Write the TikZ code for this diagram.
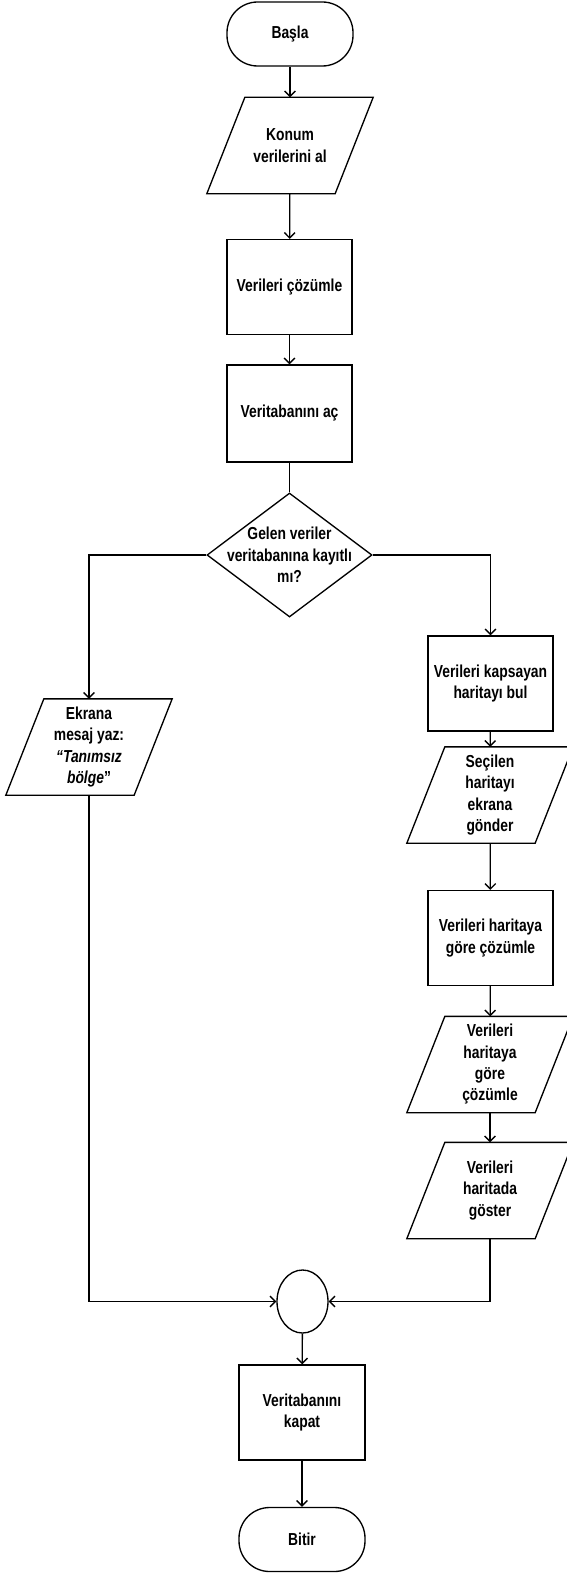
\documentclass[tikz,border=0pt]{standalone}
\usepackage{fontspec}
\setmainfont{Liberation Sans}[FakeStretch=0.8]
\usetikzlibrary{shapes.geometric,arrows.meta,calc}
\begin{document}
\begin{tikzpicture}[x=0.75pt,y=-0.75pt, line width=1pt,
 txt/.style={align=center, font=\fontsize{13}{16}\selectfont\bfseries, inner sep=0pt},
 term/.style={txt, draw, rectangle, rounded corners=23pt, minimum width=94.5pt, minimum height=48pt},
 proc/.style={txt, draw, rectangle, minimum width=93.75pt, minimum height=71.25pt},
 io/.style={txt, rectangle, minimum width=95.25pt, minimum height=71.25pt},
 arr/.style={-{Straight Barb[length=4pt,width=8pt]}}]
\useasboundingbox (0,0) rectangle (567,1573);
\node[term] (start) at (290,34) {Başla};
\node[io] (konum) at (290,145.5) {Konum\\verilerini al};
\node[proc] (coz) at (289.5,287) {Verileri çözümle};
\node[proc, minimum height=72.75pt] (vtac) at (289.5,413.5) {Veritabanını aç};
\node[draw, diamond, minimum width=123.75pt, minimum height=93pt, inner sep=0pt] (karar) at (289.5,555) {};
\node[txt] (kararT) at (karar.center) {Gelen veriler\\veritabanına kayıtlı\\mı?};
\node[io] (ekrana) at (89,747) {Ekrana\\mesaj yaz:\\\textit{“Tanımsız}\\\textit{bölge}”};
\node[proc] (kapsayan) at (490.5,683.5) {Verileri kapsayan\\haritayı bul};
\node[io] (secilen) at (490,795) {Seçilen\\haritayı\\ekrana\\gönder};
\node[proc] (cozh) at (490.5,938) {Verileri haritaya\\göre çözümle};
\node[io] (cozp) at (490,1064.5) {Verileri\\haritaya\\göre\\çözümle};
\node[io] (goster) at (490,1190.5) {Verileri\\haritada\\göster};
\node[draw, ellipse, minimum width=38.25pt, minimum height=47.25pt, inner sep=0pt] (merge) at (302.5,1301.5) {};
\node[proc, minimum width=94.5pt] (kapat) at (302,1412.5) {Veritabanını\\kapat};
\node[term] (bitir) at (302,1539.5) {Bitir};
\foreach \n in {konum,ekrana,secilen,cozp,goster}
  \draw ($(\n.north west)+(14.25pt,0pt)$) -- ($(\n.north east)+(14.25pt,0pt)$)
     -- ($(\n.south east)+(-14.25pt,0pt)$) -- ($(\n.south west)+(-14.25pt,0pt)$) -- cycle;
\draw[arr] (start) -- (konum);
\draw[arr] (konum) -- (coz);
\draw[arr] (coz) -- (vtac);
\draw (vtac) -- (karar);
\draw[arr] (karar.west) -| (ekrana.north);
\draw[arr] (karar.east) -| (kapsayan.north);
\draw[arr] (kapsayan) -- (secilen);
\draw[arr] (secilen) -- (cozh);
\draw[arr] (cozh) -- (cozp);
\draw[arr] (cozp) -- (goster);
\draw[arr] (ekrana.south) |- (merge.west);
\draw[arr] (goster.south) |- (merge.east);
\draw[arr] (merge) -- (kapat);
\draw[arr] (kapat) -- (bitir);
\end{tikzpicture}
\end{document}
